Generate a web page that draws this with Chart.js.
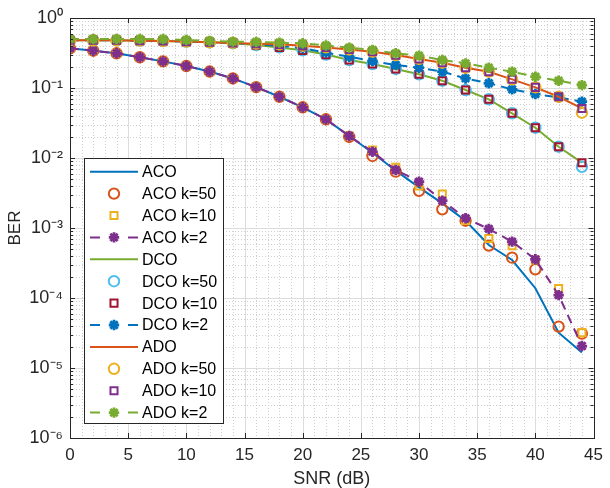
<!DOCTYPE html>
<html><head><meta charset="utf-8">
<script src="https://cdn.jsdelivr.net/npm/chart.js@4.4.1/dist/chart.umd.min.js"></script>
<style>html,body{margin:0;padding:0;background:#fff;}#wrap{width:610px;height:488px;position:relative;}</style>
</head><body><div id="wrap"><canvas id="c"></canvas></div>
<script>
const snr = [0,2,4,6,8,10,12,14,16,18,20,22,24,26,28,30,32,34,36,38,40,42,44];
const aco    = [0.369,0.341,0.313,0.275,0.240,0.206,0.172,0.137,0.103,0.075,0.053,0.0357,0.0206,0.0119,0.00659,0.00381,0.00225,0.00127,0.000571,0.000349,0.000138,3.19e-5,1.66e-5];
const acoK50 = [0.369,0.341,0.313,0.275,0.240,0.206,0.172,0.137,0.103,0.075,0.053,0.0357,0.0200,0.0107,0.00638,0.0034,0.00185,0.00127,0.00056,0.000377,0.000257,3.9e-5,3.1e-5];
const acoK10 = [0.369,0.341,0.313,0.275,0.240,0.206,0.172,0.137,0.103,0.075,0.053,0.0357,0.0206,0.0130,0.00736,0.0040,0.00306,0.00128,0.00071,0.00056,0.00035,0.000137,3.2e-5];
const acoK2  = [0.369,0.341,0.313,0.275,0.240,0.206,0.172,0.137,0.103,0.075,0.053,0.0357,0.0206,0.0123,0.00674,0.00459,0.00246,0.00138,0.00097,0.000638,0.000357,0.00011,2.06e-5];
const dco    = [0.48,0.48,0.48,0.475,0.47,0.46,0.45,0.435,0.41,0.38,0.345,0.30,0.251,0.22,0.187,0.157,0.127,0.0936,0.0689,0.0435,0.0271,0.0145,0.00857];
const dcoK50 = [0.48,0.48,0.48,0.475,0.47,0.46,0.45,0.435,0.41,0.38,0.345,0.30,0.251,0.22,0.187,0.157,0.127,0.0936,0.0689,0.0435,0.0271,0.0145,0.0075];
const dcoK10 = [0.48,0.48,0.48,0.475,0.47,0.46,0.45,0.435,0.41,0.38,0.345,0.30,0.251,0.22,0.187,0.157,0.127,0.0936,0.0689,0.0435,0.0271,0.0145,0.00857];
const dcoK2  = [0.48,0.48,0.48,0.475,0.47,0.46,0.45,0.44,0.42,0.40,0.37,0.32,0.28,0.243,0.213,0.195,0.171,0.137,0.117,0.0957,0.082,0.0736,0.0638];
const ado    = [0.48,0.48,0.48,0.475,0.47,0.46,0.45,0.44,0.43,0.42,0.40,0.38,0.355,0.33,0.295,0.26,0.23,0.195,0.171,0.133,0.102,0.075,0.051];
const adoK50 = [0.48,0.48,0.48,0.475,0.47,0.46,0.45,0.44,0.43,0.42,0.40,0.38,0.355,0.33,0.295,0.26,0.23,0.195,0.171,0.133,0.102,0.075,0.0444];
const adoK10 = [0.48,0.48,0.48,0.475,0.47,0.46,0.45,0.44,0.43,0.42,0.40,0.38,0.355,0.33,0.295,0.26,0.23,0.195,0.171,0.133,0.102,0.075,0.051];
const adoK2  = [0.50,0.50,0.50,0.50,0.50,0.485,0.47,0.46,0.455,0.445,0.435,0.405,0.377,0.35,0.313,0.29,0.251,0.225,0.195,0.171,0.145,0.127,0.11];
const seriesNames = ['ACO','ACO k=50','ACO k=10','ACO k=2','DCO','DCO k=50','DCO k=10','DCO k=2','ADO','ADO k=50','ADO k=10','ADO k=2'];
const xTicks = [0,5,10,15,20,25,30,35,40,45];
const yDecades = [1e-6,1e-5,1e-4,1e-3,1e-2,1e-1,1];
const supers = {'0':'⁰','1':'¹','2':'²','3':'³','4':'⁴','5':'⁵','6':'⁶','-':'⁻'};

const C = {blue:'#0072BD',orange:'#D95319',yellow:'#EDB120',purple:'#7E2F8E',green:'#77AC30',cyan:'#4DBEEE',red:'#A2142F'};
const FONT = "'Liberation Sans', Arial, sans-serif";
const styles = [
  {c:C.blue,   line:'solid', mk:null},
  {c:C.orange, line:null,    mk:'circle'},
  {c:C.yellow, line:null,    mk:'rect'},
  {c:C.purple, line:'dash',  mk:'star'},
  {c:C.green,  line:'solid', mk:null},
  {c:C.cyan,   line:null,    mk:'circle'},
  {c:C.red,    line:null,    mk:'rect'},
  {c:C.blue,   line:'dash',  mk:'star'},
  {c:C.orange, line:'solid', mk:null},
  {c:C.yellow, line:null,    mk:'circle'},
  {c:C.purple, line:null,    mk:'rect'},
  {c:C.green,  line:'dash',  mk:'star'}
];
const allData = [aco,acoK50,acoK10,acoK2,dco,dcoK50,dcoK10,dcoK2,ado,adoK50,adoK10,adoK2];
const DASH = [9,6];
function mkRadius(m){return m==='circle'?5.2:(m==='rect'?5:5.2);}
function mkWidth(m){return m==='star'?2.8:2;}

const datasets = allData.map((arr,i)=>{
  const s = styles[i];
  return {
    label: seriesNames[i],
    data: snr.map((x,j)=>({x:x,y:arr[j]})),
    borderColor: s.c,
    backgroundColor: 'rgba(0,0,0,0)',
    showLine: !!s.line,
    borderWidth: 2,
    borderDash: s.line==='dash'?DASH:[],
    pointStyle: s.mk || 'circle',
    pointRadius: s.mk ? mkRadius(s.mk) : 0,
    pointBorderWidth: s.mk ? mkWidth(s.mk) : 0,
    pointBorderColor: s.c,
    pointBackgroundColor: 'rgba(0,0,0,0)',
    tension: 0,
    order: -i
  };
});

function drawMarker(ctx, m, x, y, color){
  if(!m) return;
  ctx.save();
  ctx.setLineDash([]);
  ctx.strokeStyle = color;
  ctx.fillStyle = 'rgba(0,0,0,0)';
  ctx.lineWidth = mkWidth(m);
  Chart.helpers.drawPoint(ctx, {pointStyle:m, radius:mkRadius(m), borderWidth:mkWidth(m), rotation:0}, x, y);
  ctx.restore();
}

const axesPlugin = {
  id:'matlabAxes',
  beforeDatasetsDraw(chart){
    const ctx = chart.ctx, a = chart.chartArea, xs = chart.scales.x, ys = chart.scales.y;
    ctx.save();
    ctx.lineWidth = 1;
    ctx.strokeStyle = '#cfcfcf';
    ctx.setLineDash([1,2]);
    ctx.beginPath();
    for(let v=1; v<45; v++){
      if(v%5===0) continue;
      const px = Math.round(xs.getPixelForValue(v))+0.5;
      ctx.moveTo(px,a.top); ctx.lineTo(px,a.bottom);
    }
    for(let k=0;k<yDecades.length-1;k++){
      for(let m=2;m<=9;m++){
        const py = Math.round(ys.getPixelForValue(m*yDecades[k]))+0.5;
        ctx.moveTo(a.left,py); ctx.lineTo(a.right,py);
      }
    }
    ctx.stroke();
    ctx.setLineDash([]);
    ctx.strokeStyle = '#dcdcdc';
    ctx.beginPath();
    xTicks.forEach(v=>{ if(v===0||v===45) return; const px=Math.round(xs.getPixelForValue(v))+0.5; ctx.moveTo(px,a.top); ctx.lineTo(px,a.bottom);});
    yDecades.forEach(v=>{ if(v===1||v===1e-6) return; const py=Math.round(ys.getPixelForValue(v))+0.5; ctx.moveTo(a.left,py); ctx.lineTo(a.right,py);});
    ctx.stroke();
    ctx.restore();
  },
  afterDatasetsDraw(chart){
    const ctx = chart.ctx, a = chart.chartArea, xs = chart.scales.x, ys = chart.scales.y;
    ctx.save();
    ctx.setLineDash([]);
    ctx.strokeStyle = '#262626';
    ctx.lineWidth = 1;
    ctx.beginPath();
    xTicks.forEach(v=>{ const px=Math.round(xs.getPixelForValue(v))+0.5; ctx.moveTo(px,a.bottom); ctx.lineTo(px,a.bottom-5); ctx.moveTo(px,a.top); ctx.lineTo(px,a.top+5);});
    yDecades.forEach(v=>{ const py=Math.round(ys.getPixelForValue(v))+0.5; ctx.moveTo(a.left,py); ctx.lineTo(a.left+5,py); ctx.moveTo(a.right,py); ctx.lineTo(a.right-5,py);});
    for(let k=0;k<yDecades.length-1;k++){
      for(let m=2;m<=9;m++){
        const py = Math.round(ys.getPixelForValue(m*yDecades[k]))+0.5;
        ctx.moveTo(a.left,py); ctx.lineTo(a.left+3,py); ctx.moveTo(a.right,py); ctx.lineTo(a.right-3,py);
      }
    }
    ctx.stroke();
    ctx.strokeRect(Math.round(a.left)+0.5, Math.round(a.top)+0.5, Math.round(a.right-a.left), Math.round(a.bottom-a.top));
    const L = {x:84, y:158, w:139, h:265, row:21.9, first:171.7};
    ctx.fillStyle = '#ffffff';
    ctx.fillRect(L.x, L.y, L.w, L.h);
    ctx.strokeStyle = '#262626';
    ctx.strokeRect(L.x+0.5, L.y+0.5, L.w, L.h);
    ctx.font = '16px ' + FONT;
    ctx.textBaseline = 'middle';
    ctx.textAlign = 'left';
    seriesNames.forEach((name,i)=>{
      const s = styles[i];
      const yy = L.first + i*L.row;
      if(s.line==='solid'){
        ctx.save();
        ctx.strokeStyle = s.c; ctx.lineWidth = 2;
        ctx.beginPath(); ctx.moveTo(90,yy); ctx.lineTo(138,yy); ctx.stroke();
        ctx.restore();
      } else if(s.line==='dash'){
        ctx.save();
        ctx.strokeStyle = s.c; ctx.lineWidth = 2;
        ctx.beginPath(); ctx.moveTo(90,yy); ctx.lineTo(100,yy); ctx.moveTo(128,yy); ctx.lineTo(138,yy); ctx.stroke();
        ctx.restore();
      }
      if(s.mk){
        drawMarker(ctx, s.mk, 114, yy, s.c);
      }
      ctx.fillStyle = '#000000';
      ctx.fillText(name, 142, yy+1);
    });
    ctx.restore();
  }
};

new Chart(document.getElementById('c'), {
  type:'line',
  data:{datasets:datasets},
  plugins:[axesPlugin],
  options:{
    responsive:true, maintainAspectRatio:false, animation:false,
    layout:{padding:{top:18,right:7,left:0,bottom:0}},
    plugins:{legend:{display:false}, tooltip:{enabled:false}},
    scales:{
      x:{type:'linear', min:0, max:45,
        afterFit:s=>{s.height=50;},
        afterBuildTicks:s=>{s.ticks = xTicks.map(v=>({value:v}));},
        ticks:{stepSize:5, color:'#262626', font:{family:FONT,size:17}, padding:7, maxRotation:0},
        grid:{display:false, drawTicks:false}, border:{display:false},
        title:{display:true, text:'SNR (dB)', color:'#262626', font:{family:FONT,size:18}, padding:{top:0,bottom:-2}}
      },
      y:{type:'logarithmic', min:1e-6, max:1,
        afterFit:s=>{s.width=70;},
        afterBuildTicks:s=>{s.ticks = yDecades.map(v=>({value:v, major:true}));},
        ticks:{autoSkip:false, color:'#262626', font:{family:FONT,size:18}, padding:7,
          callback:(v)=>{const e=Math.round(Math.log10(v)); return '10'+String(e).split('').map(ch=>supers[ch]).join('');}},
        grid:{display:false, drawTicks:false}, border:{display:false},
        title:{display:true, text:'BER', color:'#262626', font:{family:FONT,size:17}, padding:{top:5,bottom:0}}
      }
    }
  }
});
</script></body></html>
